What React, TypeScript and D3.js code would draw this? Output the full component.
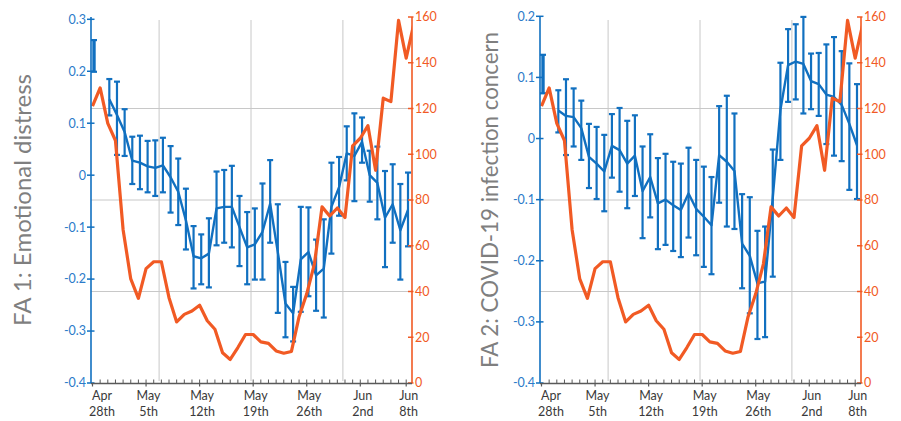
import React, { useEffect, useRef } from "react";
import * as d3 from "d3";

// ---- data ----
const tickDays = [0, 7, 14, 21, 28, 35, 41];
const tickMonth = ["Apr", "May", "May", "May", "May", "Jun", "Jun"];
const tickDay = ["28th", "5th", "12th", "19th", "26th", "2nd", "8th"];
const gridDays = [8.5, 20.5, 32.5];
const caseGrid = [40, 80, 120];
const caseTicks = [0, 20, 40, 60, 80, 100, 120, 140, 160];
const fa1Ticks = [-0.4, -0.3, -0.2, -0.1, 0, 0.1, 0.2, 0.3];
const fa2Ticks = [-0.4, -0.3, -0.2, -0.1, 0, 0.1, 0.2];

// orange series (shared by both panels)
const cases = [121, 129, 113.5, 106, 67, 45.5, 37, 50, 53, 53, 37.3, 26.7, 30, 31.5, 34, 27.2, 23.5, 13.2, 10.3, 15.5, 21.2, 21.2, 18, 17.3, 14, 13, 13.8, 29, 39, 52, 77, 73, 76.5, 72.3, 103.7, 107, 112.5, 93, 124.5, 123, 158.5, 142, 157];

const fa1Mean = [0.23, null, 0.146, 0.116, 0.083, 0.028, 0.024, 0.017, 0.014, 0.019, -0.004, -0.032, -0.087, -0.156, -0.16, -0.151, -0.064, -0.061, -0.061, -0.1, -0.139, -0.133, -0.109, -0.055, -0.148, -0.247, -0.266, -0.162, -0.148, -0.193, -0.18, -0.061, -0.023, 0.042, 0.037, 0.064, 0.0, -0.015, -0.082, -0.056, -0.106, -0.067];
const fa1Upper = [0.26, null, 0.185, 0.18, 0.127, 0.074, 0.076, 0.066, 0.067, 0.072, 0.056, 0.032, -0.026, -0.098, -0.114, -0.083, 0.007, 0.01, 0.018, -0.04, -0.071, -0.064, -0.016, 0.029, -0.056, -0.167, -0.215, -0.061, -0.062, -0.124, -0.085, 0.024, 0.035, 0.094, 0.119, 0.111, 0.047, 0.055, 0.008, 0.021, -0.017, 0.005];
const fa1Lower = [0.199, null, 0.115, 0.039, 0.037, -0.017, -0.027, -0.033, -0.04, -0.033, -0.072, -0.096, -0.143, -0.218, -0.21, -0.216, -0.135, -0.13, -0.139, -0.175, -0.21, -0.201, -0.201, -0.13, -0.265, -0.312, -0.32, -0.263, -0.233, -0.261, -0.274, -0.151, -0.078, -0.01, -0.05, 0.024, -0.051, -0.085, -0.177, -0.13, -0.201, -0.137];

const fa2Mean = [0.106, null, 0.046, 0.037, 0.035, 0.017, -0.03, -0.041, -0.054, -0.012, -0.019, -0.041, -0.028, -0.086, -0.063, -0.106, -0.1, -0.109, -0.117, -0.09, -0.115, -0.128, -0.142, -0.027, -0.038, -0.053, -0.172, -0.192, -0.237, -0.234, -0.097, 0.047, 0.12, 0.126, 0.122, 0.094, 0.089, 0.072, 0.068, 0.055, 0.024, -0.011];
const fa2Upper = [0.137, null, 0.079, 0.097, 0.082, 0.062, 0.024, 0.019, 0.006, 0.04, 0.05, 0.029, 0.038, -0.013, 0.007, -0.032, -0.025, -0.038, -0.041, -0.015, -0.035, -0.046, -0.063, 0.053, 0.07, 0.041, -0.091, -0.096, -0.151, -0.144, -0.018, 0.124, 0.179, 0.187, 0.199, 0.139, 0.14, 0.154, 0.166, 0.143, 0.123, 0.089];
const fa2Lower = [0.074, null, 0.01, -0.027, -0.013, -0.035, -0.081, -0.099, -0.119, -0.064, -0.087, -0.114, -0.094, -0.163, -0.129, -0.181, -0.174, -0.184, -0.194, -0.162, -0.191, -0.21, -0.222, -0.105, -0.144, -0.148, -0.245, -0.286, -0.328, -0.325, -0.226, -0.035, 0.06, 0.064, 0.041, 0.048, 0.037, -0.009, -0.028, -0.037, -0.084, -0.099];

// ---- styling / layout ----
const W = 901;
const H = 421;
const TOP = 17;
const BOTTOM = 383;
const PW = 321;
const BLUE = "#1170C0";
const BLUE_TXT = "#2B7BC9";
const ORANGE = "#F15A24";
const GRID = "#C8C8C8";
const AXIS = "#595959";
const FONT = "Lato, 'Liberation Sans', sans-serif";

const panels = [
  { x0: 91, title: "FA 1: Emotional distress", titleX: 31, titleLen: 252, mean: fa1Mean, upper: fa1Upper, lower: fa1Lower, domain: [-0.4, 0.3], yTop: 19.3, ticks: fa1Ticks },
  { x0: 540, title: "FA 2: COVID-19 infection concern", titleX: 498, titleLen: 336, mean: fa2Mean, upper: fa2Upper, lower: fa2Lower, domain: [-0.4, 0.2], yTop: 16.3, ticks: fa2Ticks },
];

const fmt = (v: number) => (Math.abs(v) < 1e-9 ? "0" : String(+v.toFixed(1)));

export default function App() {
  const ref = useRef<SVGSVGElement | null>(null);

  useEffect(() => {
    const svg = d3.select(ref.current);
    svg.selectAll("*").remove();

    panels.forEach((p, pi) => {
      const right = p.x0 + PW;
      const g = svg.append("g");
      const xB = d3.scaleLinear().domain([0, 41]).range([p.x0 + 3, p.x0 + 317]);
      const xO = d3.scaleLinear().domain([0, 41]).range([p.x0 + 1.5, p.x0 + 315.2]);
      const yL = d3.scaleLinear().domain(p.domain).range([BOTTOM, p.yTop]);
      const yR = d3.scaleLinear().domain([0, 160]).range([BOTTOM, TOP]);

      const clipId = `clip-${pi}`;
      svg.append("clipPath").attr("id", clipId).append("rect")
        .attr("x", p.x0).attr("y", 0).attr("width", PW).attr("height", BOTTOM + 2);

      // gridlines
      g.selectAll(".hg").data(caseGrid).enter().append("line")
        .attr("x1", p.x0).attr("x2", right)
        .attr("y1", (d) => yR(d)).attr("y2", (d) => yR(d))
        .attr("stroke", GRID).attr("stroke-width", 1);
      g.selectAll(".vg").data(gridDays).enter().append("line")
        .attr("x1", (d) => xB(d)).attr("x2", (d) => xB(d))
        .attr("y1", TOP + 3).attr("y2", BOTTOM - 2)
        .attr("stroke", GRID).attr("stroke-width", 1);

      // blue mean line
      const idx = p.mean.map((_, i) => i);
      const line = d3.line<number>()
        .defined((i) => p.mean[i] != null && (p.mean[i - 1] != null || p.mean[i + 1] != null))
        .x((i) => xB(i))
        .y((i) => yL(p.mean[i] as number));
      g.append("path").attr("d", line(idx) || "")
        .attr("fill", "none").attr("stroke", BLUE).attr("stroke-width", 2.4)
        .attr("stroke-linejoin", "round");

      // error bars
      idx.forEach((i) => {
        if (p.mean[i] == null) return;
        const isolated = p.mean[i - 1] == null && p.mean[i + 1] == null;
        const sw = isolated ? 3.4 : 2.2;
        const x = xB(i);
        const yu = yL(p.upper[i] as number);
        const yl = yL(p.lower[i] as number);
        const eb = g.append("g").attr("stroke", BLUE).attr("stroke-width", sw);
        eb.append("line").attr("x1", x).attr("x2", x).attr("y1", yu).attr("y2", yl);
        eb.append("line").attr("x1", x - 3).attr("x2", x + 3).attr("y1", yu).attr("y2", yu).attr("stroke-width", 2.2);
        eb.append("line").attr("x1", x - 3).attr("x2", x + 3).attr("y1", yl).attr("y2", yl).attr("stroke-width", 2.2);
      });

      // orange line
      const oline = d3.line<number>().x((_, i) => xO(i)).y((d) => yR(d));
      g.append("path").attr("d", oline(cases) || "")
        .attr("clip-path", `url(#${clipId})`)
        .attr("fill", "none").attr("stroke", ORANGE).attr("stroke-width", 3.2)
        .attr("stroke-linejoin", "round");

      // left axis
      g.append("line").attr("x1", p.x0).attr("x2", p.x0).attr("y1", TOP).attr("y2", BOTTOM)
        .attr("stroke", BLUE).attr("stroke-width", 1.6);
      p.ticks.forEach((v) => {
        g.append("line").attr("x1", p.x0 - 4).attr("x2", p.x0 + 3.5)
          .attr("y1", yL(v)).attr("y2", yL(v)).attr("stroke", BLUE).attr("stroke-width", 1.5);
        g.append("text").attr("x", p.x0 - 5).attr("y", yL(v)).attr("dy", "0.35em")
          .attr("text-anchor", "end").attr("fill", BLUE_TXT)
          .attr("font-family", FONT).attr("font-size", 12.5).text(fmt(v));
      });

      // right axis
      g.append("line").attr("x1", right).attr("x2", right).attr("y1", TOP).attr("y2", BOTTOM)
        .attr("stroke", ORANGE).attr("stroke-width", 1.6);
      caseTicks.forEach((v) => {
        g.append("line").attr("x1", right - 4).attr("x2", right + 1.5)
          .attr("y1", yR(v)).attr("y2", yR(v)).attr("stroke", ORANGE).attr("stroke-width", 1.5);
        g.append("text").attr("x", right + 3).attr("y", yR(v)).attr("dy", "0.35em")
          .attr("text-anchor", "start").attr("fill", ORANGE)
          .attr("font-family", FONT).attr("font-size", 12.5).text(String(v));
      });

      // x axis
      g.append("line").attr("x1", p.x0).attr("x2", right).attr("y1", BOTTOM + 0.5).attr("y2", BOTTOM + 0.5)
        .attr("stroke", AXIS).attr("stroke-width", 1.6);
      d3.range(1, 42).forEach((d) => {
        g.append("line").attr("x1", xO(d)).attr("x2", xO(d))
          .attr("y1", BOTTOM).attr("y2", BOTTOM - 3.5).attr("stroke", AXIS).attr("stroke-width", 1);
      });
      tickDays.forEach((d, j) => {
        g.append("line").attr("x1", xO(d)).attr("x2", xO(d))
          .attr("y1", BOTTOM).attr("y2", BOTTOM + 3.5).attr("stroke", AXIS).attr("stroke-width", 1.2);
        const cx = Math.max(xO(d) + 2.5, p.x0 + 11);
        const t = g.append("text").attr("text-anchor", "middle").attr("fill", "#3a3a3a")
          .attr("font-family", FONT).attr("font-size", 12.5);
        t.append("tspan").attr("x", cx).attr("y", 399.5).text(tickMonth[j]);
        t.append("tspan").attr("x", cx).attr("y", 416).text(tickDay[j]);
      });

      // title
      g.append("text")
        .attr("transform", `translate(${p.titleX},${(TOP + BOTTOM) / 2}) rotate(-90)`)
        .attr("text-anchor", "middle").attr("fill", "#7F7F7F")
        .attr("font-family", FONT).attr("font-size", 23)
        .attr("textLength", p.titleLen).attr("lengthAdjust", "spacingAndGlyphs")
        .text(p.title);
    });
  }, []);

  return (
    <svg
      ref={ref}
      width={W}
      height={H}
      style={{ position: "absolute", left: 0, top: 0, background: "#fff" }}
    />
  );
}
